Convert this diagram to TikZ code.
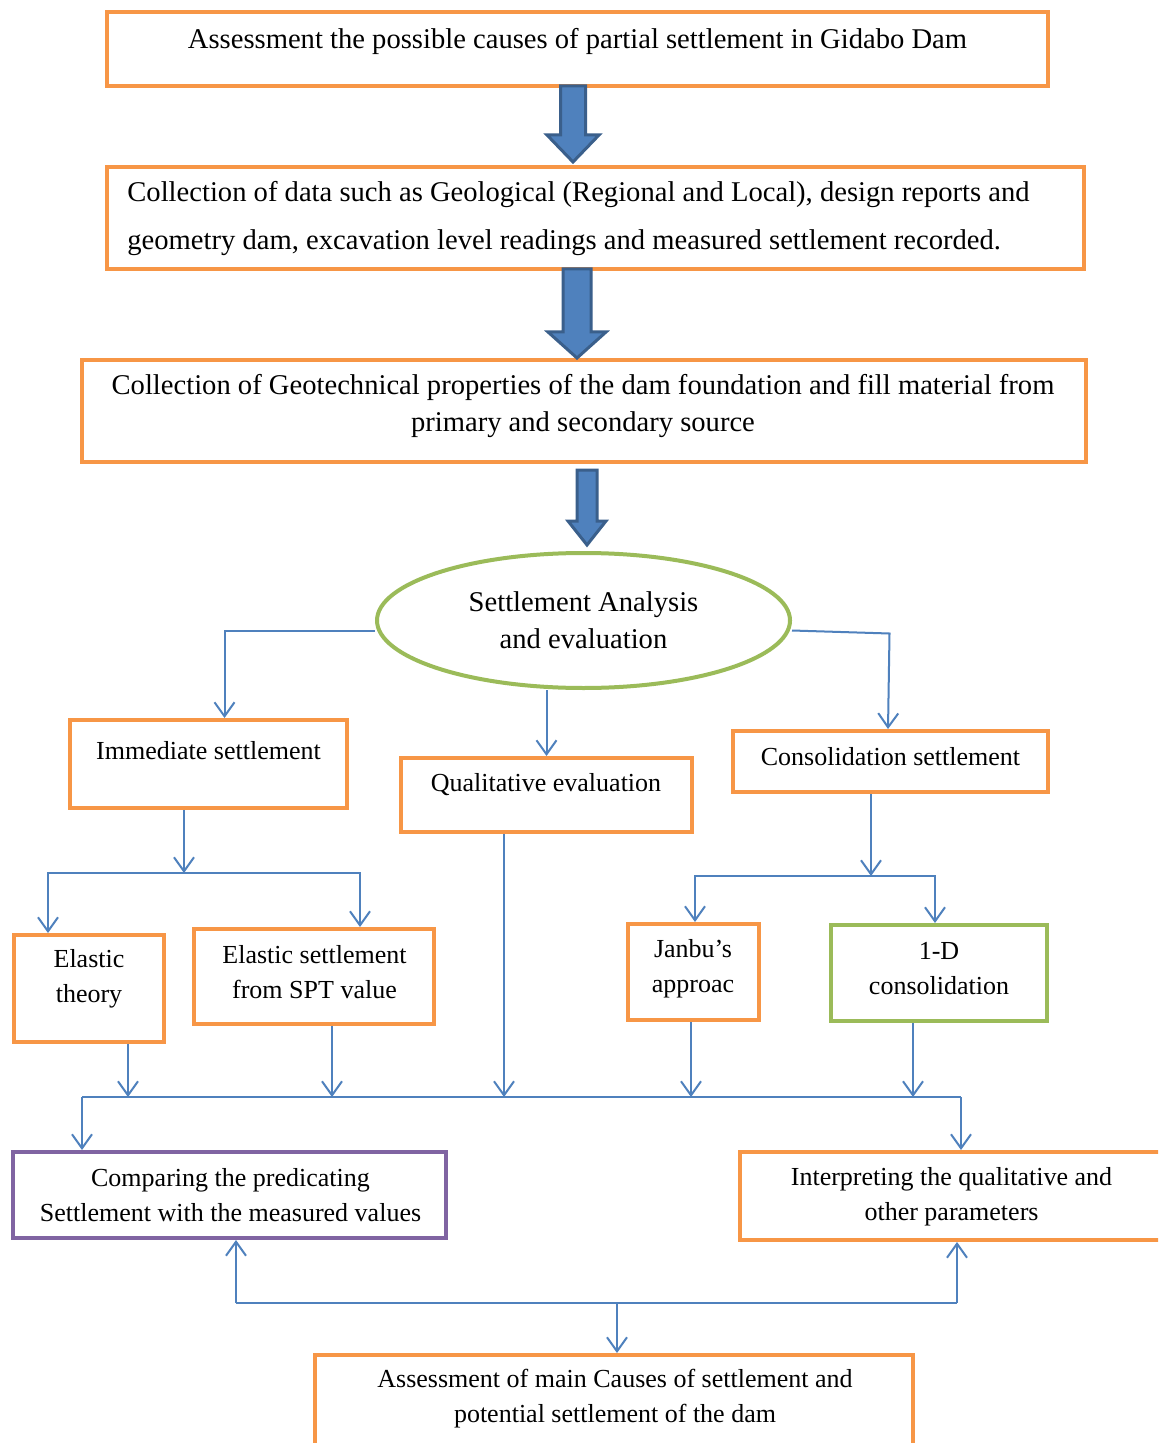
\documentclass[tikz,border=0pt]{standalone}
\usepackage{fontspec}
\setmainfont{Liberation Serif}
\usetikzlibrary{arrows.meta,calc,shapes.geometric}
\definecolor{ora}{HTML}{F79646}
\definecolor{grn}{HTML}{9BBB59}
\definecolor{pur}{HTML}{8064A2}
\definecolor{lblue}{HTML}{4F81BD}
\definecolor{dblue}{HTML}{3A5F8B}
\tikzset{
  obox/.style={draw=ora, line width=2pt, rectangle, inner sep=0pt},
  gbox/.style={draw=grn, line width=2pt, rectangle, inner sep=0pt},
  pbox/.style={draw=pur, line width=2pt, rectangle, inner sep=0pt},
  conn/.style={draw=lblue, line width=1pt, -{Straight Barb[length=7pt,width=10pt]}},
  ln/.style={draw=lblue, line width=1pt},
  txt/.style={inner sep=0pt, font=\fontsize{13}{17.5}\selectfont, align=center},
  bigtxt/.style={inner sep=0pt, font=\fontsize{14.3}{18.5}\selectfont, align=center},
  barrow/.style={fill=lblue, draw=dblue, line width=1.5pt, line join=miter}
}
\newcommand\blockarr[6]{\filldraw[barrow] ({#1-#4},#2) -- ({#1+#4},#2) -- ({#1+#4},{#3-#6}) -- ({#1+#5},{#3-#6}) -- (#1,#3) -- ({#1-#5},{#3-#6}) -- ({#1-#4},{#3-#6}) -- cycle;}
\begin{document}
\begin{tikzpicture}[x=0.5pt,y=-0.5pt]
\fill[white] (0,0) rectangle (1158,1443);
\clip (0,0) rectangle (1158,1443);

% boxes
\node[obox, minimum width=470.5pt, minimum height=37pt] (b1) at (577.5,49) {};
\node[obox, minimum width=488.5pt, minimum height=51pt] (b2) at (595.5,218) {};
\node[obox, minimum width=502pt, minimum height=51pt] (b3) at (584,411) {};
\node[draw=grn, line width=2pt, ellipse, bigtxt, minimum width=206.5pt, minimum height=67.5pt] (ell) at (583.5,620.5) {Settlement Analysis\\and evaluation};
\node[obox, minimum width=138.5pt, minimum height=44pt] (imm) at (208.5,764) {};
\node[obox, minimum width=145.5pt, minimum height=37pt] (qual) at (546.5,795) {};
\node[obox, minimum width=157.5pt, minimum height=30.5pt] (cons) at (890.5,761.5) {};
\node[obox, minimum width=75pt, minimum height=53.5pt] (et) at (89,988.5) {};
\node[obox, minimum width=120pt, minimum height=47.5pt] (spt) at (314,976.5) {};
\node[obox, minimum width=65.5pt, minimum height=48pt] (jan) at (693.5,972) {};
\node[gbox, minimum width=108pt, minimum height=48pt] (oned) at (939,973) {};
\node[pbox, minimum width=216.5pt, minimum height=43pt] (cmp) at (229.5,1195) {};
\node[obox, minimum width=215pt, minimum height=44pt] (intp) at (955,1196) {};
\node[obox, minimum width=299pt, minimum height=52.5pt] (fin) at (614,1407.5) {};

% texts
\node[bigtxt] (t1) at (577.5,41) {Assessment the possible causes of partial settlement in Gidabo Dam};
\node[bigtxt, anchor=west, align=left, font=\fontsize{14.3}{24}\selectfont] (t2) at (127,219) {Collection of data such as Geological (Regional and Local), design reports and\\geometry dam, excavation level readings and measured settlement recorded.};
\node[bigtxt] (t3) at (583,406.5) {Collection of Geotechnical properties of the dam foundation and fill material from\\primary and secondary source};
\node[txt] (timm) at (208.5,751) {Immediate settlement};
\node[txt] (tqual) at (546,785) {Qualitative evaluation};
\node[txt] (tcons) at (890.5,757) {Consolidation settlement};
\node[txt] (tet) at (89,978.5) {Elastic\\theory};
\node[txt] (tspt) at (314.5,972.5) {Elastic settlement\\from SPT value};
\node[txt] (tjan) at (693,968.5) {Janbu’s\\approac};
\node[txt] (toned) at (939,969) {1-D\\consolidation};
\node[txt] (tcmp) at (230.5,1195) {Comparing the predicating\\Settlement with the measured values};
\node[txt] (tintp) at (951.5,1196.5) {Interpreting the qualitative and\\other parameters};
\node[txt] (tfin) at (615,1398.5) {Assessment of main Causes of settlement and\\potential settlement of the dam};

% block arrows
\blockarr{573}{86}{162}{12.5}{26}{27}
\blockarr{577}{269}{358}{14}{29}{26}
\blockarr{587}{470}{545}{10}{19}{24}

% connectors from ellipse
\draw[conn] ($(ell.west)+(0,10)$) -| ($(imm.north)+(16,0)$);
\draw[conn] ($(ell.east)+(0,10)$) -- ($(ell.east)+(97.5,13)$) -- ($(cons.north)+(-2.5,0)$);
\draw[conn] (qual.north |- ell.south) -- (qual.north);

% immediate branch
\coordinate (J1) at (184,873);
\draw[conn] (imm.south -| J1) -- (J1);
\draw[conn] (J1) -| ($(et.north)+(-41,0)$);
\draw[conn] (J1) -| ($(spt.north)+(46,0)$);

% consolidation branch
\coordinate (J2) at (871,876);
\draw[conn] (cons.south -| J2) -- (J2);
\draw[conn] (J2) -| ($(jan.north)+(1.5,0)$);
\draw[conn] (J2) -| ($(oned.north)+(-4,0)$);

% collector line
\coordinate (L) at (82,1097);
\coordinate (R) at (961,1097);
\draw[ln] (L) -- (R);
\draw[conn] (L) -- (L |- cmp.north);
\draw[conn] (R) -- (R |- intp.north);
\coordinate (e1) at ($(et.south)+(39,0)$);
\coordinate (e2) at ($(spt.south)+(18,0)$);
\coordinate (e3) at ($(qual.south)+(-42.5,0)$);
\coordinate (e4) at ($(jan.south)+(-2.5,0)$);
\coordinate (e5) at ($(oned.south)+(-26,0)$);
\draw[conn] (e1) -- (e1 |- L);
\draw[conn] (e2) -- (e2 |- L);
\draw[conn] (e3) -- (e3 |- L);
\draw[conn] (e4) -- (e4 |- L);
\draw[conn] (e5) -- (e5 |- L);

% bottom bracket
\coordinate (BL) at (236,1303);
\coordinate (BR) at (957,1303);
\coordinate (BM) at (617,1303);
\draw[ln] (BL) -- (BR);
\draw[conn] (BL) -- (BL |- cmp.south);
\draw[conn] (BR) -- (BR |- intp.south);
\draw[conn] (BM) -- (BM |- fin.north);
\end{tikzpicture}
\end{document}
